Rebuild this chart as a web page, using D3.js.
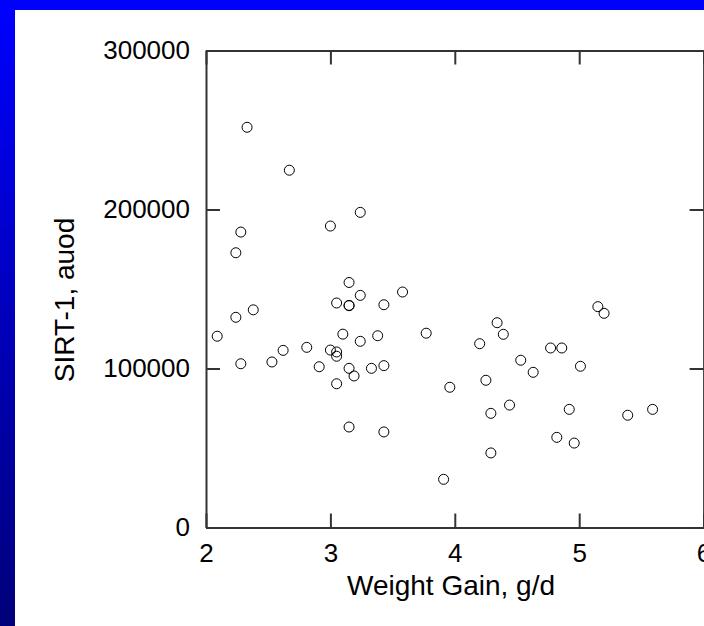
<!DOCTYPE html>
<html>
<head>
<meta charset="utf-8">
<script src="https://cdn.jsdelivr.net/npm/d3@7"></script>
<style>
  body { margin: 0; padding: 0; background: #fff; }
  svg { display: block; }
  text { font-family: "Liberation Sans", Arial, sans-serif; fill: #000; }
</style>
</head>
<body>
<div id="vis"></div>
<script>
// weight gain (g/d) and SIRT-1 (auod)
var weightGain = [2.33, 2.67, 3.24, 3.00, 2.28, 2.24, 3.15, 3.58, 3.24, 3.05,
                  3.15, 3.15, 3.43, 2.38, 2.24, 2.09, 3.10, 3.38, 3.77, 3.24,
                  2.62, 2.81, 3.00, 3.05, 3.05, 2.28, 2.53, 2.91, 3.15, 3.33,
                  3.43, 3.19, 3.05, 3.15, 3.43, 3.91, 5.15, 5.20, 4.34, 4.39,
                  4.20, 4.77, 4.86, 4.53, 4.63, 5.01, 3.96, 4.25, 4.44, 4.29,
                  4.92, 5.39, 5.59, 4.82, 4.96, 4.29];
var sirt1 = [251700, 224700, 198200, 189600, 185800, 172800, 154100, 148100, 146000, 141200,
             139700, 139500, 140100, 136900, 132200, 120300, 121600, 120600, 122200, 117100,
             111400, 113300, 111600, 110400, 107700, 103000, 104100, 101100, 100100, 100100,
             101800, 95300, 90400, 63200, 60100, 30300, 138900, 134700, 128800, 121500,
             115600, 112900, 112900, 105200, 97600, 101400, 88200, 92600, 77000, 71800,
             74300, 70600, 74300, 56700, 53100, 46900];

var xTicks = [2, 3, 4, 5, 6];
var yTicks = [0, 100000, 200000, 300000];

var W = 704, H = 626;
var svg = d3.select("#vis").append("svg").attr("width", W).attr("height", H);

// slide background: blue gradient with white panel
var grad = svg.append("defs").append("linearGradient")
  .attr("id", "bg").attr("x1", 0).attr("y1", 0).attr("x2", 0).attr("y2", 1);
grad.append("stop").attr("offset", "0%").attr("stop-color", "#0000ff");
grad.append("stop").attr("offset", "100%").attr("stop-color", "#00007a");
svg.append("rect").attr("width", W).attr("height", H).attr("fill", "url(#bg)");
svg.append("rect").attr("x", 15).attr("y", 10).attr("width", W - 15).attr("height", H - 10).attr("fill", "#fff");

var x = d3.scaleLinear().domain([2, 6]).range([206, 703.6]);
var y = d3.scaleLinear().domain([0, 300000]).range([527.5, 50.5]);

var L = x.range()[0], R = x.range()[1], B = y.range()[0], T = y.range()[1];

function styleAxis(g) {
  g.selectAll("path, line").attr("stroke", "#333").attr("stroke-width", 2);
  g.selectAll("text").style("font-size", "26px").attr("fill", "#000");
}

svg.append("g").attr("transform", "translate(0," + B + ")")
  .call(d3.axisBottom(x).tickValues(xTicks).tickSizeInner(-14).tickSizeOuter(0).tickPadding(16).tickFormat(d3.format("d")))
  .call(styleAxis);
svg.append("g").attr("transform", "translate(" + L + ",0)")
  .call(d3.axisLeft(y).tickValues(yTicks).tickSizeInner(-14).tickSizeOuter(0).tickPadding(16).tickFormat(d3.format("d")))
  .call(styleAxis);
svg.append("g").attr("transform", "translate(0," + T + ")")
  .call(d3.axisTop(x).tickValues(xTicks).tickSizeInner(-14).tickSizeOuter(0).tickFormat(""))
  .call(styleAxis);
svg.append("g").attr("transform", "translate(" + R + ",0)")
  .call(d3.axisRight(y).tickValues(yTicks).tickSizeInner(-14).tickSizeOuter(0).tickFormat(""))
  .call(styleAxis);

// points
svg.append("g").selectAll("circle")
  .data(d3.range(weightGain.length))
  .join("circle")
  .attr("cx", function(i) { return x(weightGain[i]); })
  .attr("cy", function(i) { return y(sirt1[i]); })
  .attr("r", 5)
  .attr("fill", "none")
  .attr("stroke", "#000")
  .attr("stroke-width", 1);

// axis titles
svg.append("text").attr("x", 451).attr("y", 595)
  .attr("text-anchor", "middle").style("font-size", "28px")
  .text("Weight Gain, g/d");
svg.append("text").attr("transform", "translate(74,300) rotate(-90)")
  .attr("text-anchor", "middle").style("font-size", "28px")
  .text("SIRT-1, auod");
</script>
</body>
</html>
